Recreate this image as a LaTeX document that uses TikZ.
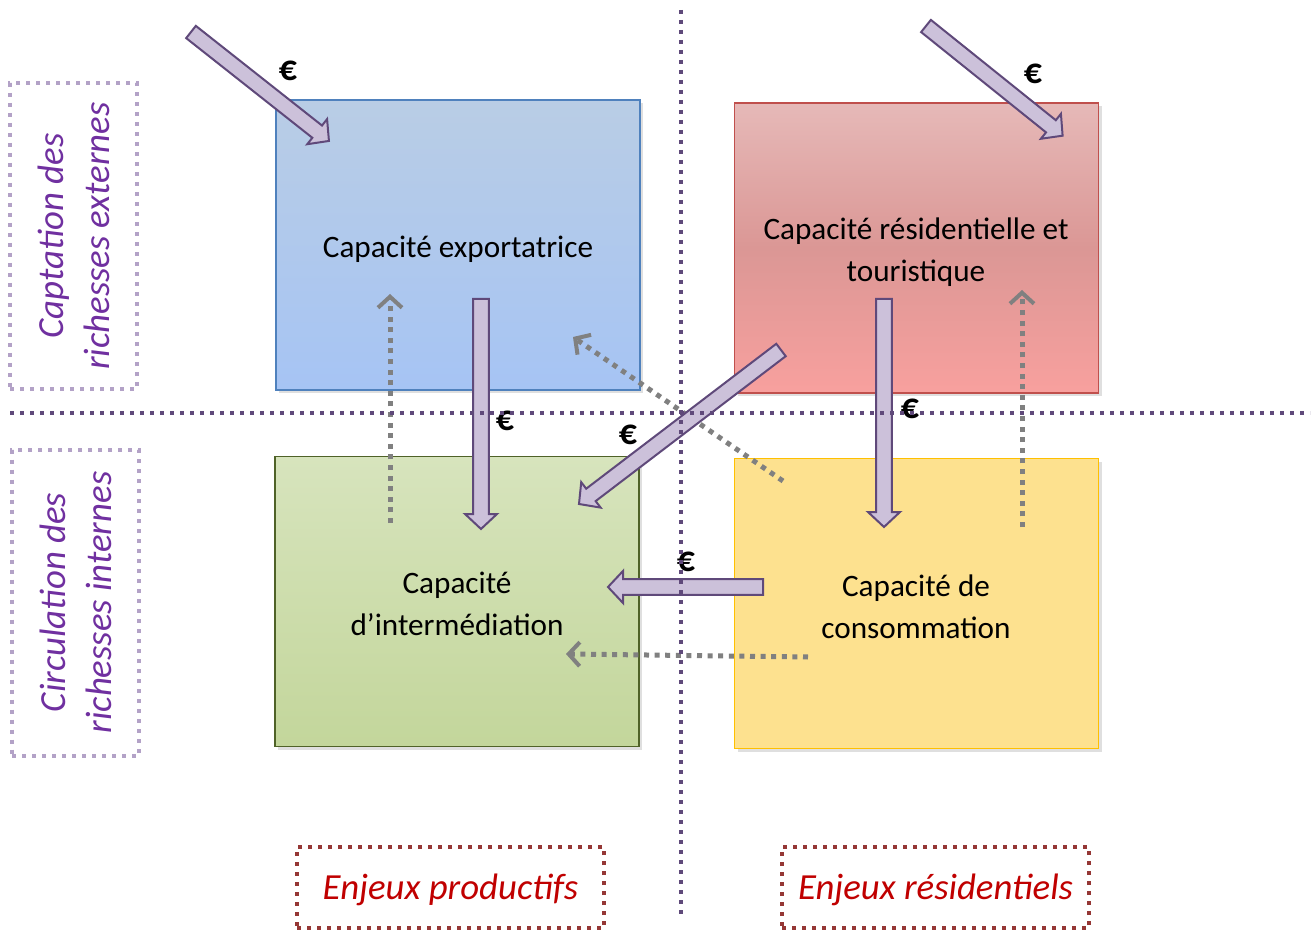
\documentclass[tikz,border=0pt]{standalone}
\usepackage{fontspec}
\setmainfont{Carlito}
\usetikzlibrary{arrows.meta,shadows}
\definecolor{divpurple}{HTML}{5F497A}
\definecolor{arrfill}{HTML}{CCC1DA}
\definecolor{lablav}{HTML}{B3A2C7}
\definecolor{labtext}{HTML}{7030A0}
\definecolor{enjbord}{HTML}{953735}
\definecolor{enjtext}{HTML}{C00000}
\definecolor{grayarr}{HTML}{808080}
\definecolor{bluetop}{HTML}{B9CDE5}
\definecolor{bluebot}{HTML}{A6C4F4}
\definecolor{bluebord}{HTML}{4F81BD}
\definecolor{redtop}{HTML}{E6B9B8}
\definecolor{redmid}{HTML}{DB9795}
\definecolor{redbot}{HTML}{F8A09E}
\definecolor{redbord}{HTML}{C0504D}
\definecolor{greentop}{HTML}{D7E4BD}
\definecolor{greenbot}{HTML}{C3D69B}
\definecolor{greenbord}{HTML}{4F6228}
\definecolor{yelfill}{HTML}{FDE18F}
\definecolor{yelbord}{HTML}{FFC000}
\newcommand\blockarrow[2]{%
  \path (#1); \pgfgetlastxy\bax\bay
  \path (#2); \pgfgetlastxy\bbx\bby
  \pgfmathsetmacro\bang{atan2(\bby-\bay,\bbx-\bax)}%
  \pgfmathsetmacro\blen{veclen(\bbx-\bax,\bby-\bay)}%
  \pgfmathsetmacro\bneck{\blen-7.5}%
  \draw[blockarr, shift={(#1)}, rotate=\bang] (0pt,-3.9pt) -- (\bneck pt,-3.9pt) -- (\bneck pt,-8pt) -- (\blen pt,0pt) -- (\bneck pt,8pt) -- (\bneck pt,3.9pt) -- (0pt,3.9pt) -- cycle;}
\begin{document}
\begin{tikzpicture}[x=0.5pt,y=-0.5pt,
  capbox/.style={minimum width=182pt, minimum height=145pt, inner sep=0pt, line width=0.6pt,
    drop shadow={opacity=0.25, shadow xshift=1.5pt, shadow yshift=-1.5pt}},
  captext/.style={align=center, font=\fontsize{15.6}{21}\selectfont, inner sep=0pt},
  blockarr/.style={draw=divpurple, fill=arrfill, line width=1pt, line join=miter},
  divider/.style={draw=divpurple, line width=1.7pt, dash pattern=on 2pt off 3pt},
  grayflow/.style={draw=grayarr, line width=2.5pt, dash pattern=on 2.5pt off 2.8pt,
    -{Straight Barb[length=5.5pt,width=12pt,line width=2pt]}},
  sidelab/.style={draw=lablav, line width=2pt, dash pattern=on 2pt off 3pt,
    minimum width=63.5pt, minimum height=153pt, inner sep=0pt},
  sidetext/.style={text=labtext, font=\fontsize{18.4}{23}\selectfont\itshape, align=center, rotate=90, inner sep=0pt},
  enjbox/.style={draw=enjbord, line width=2pt, dash pattern=on 2pt off 3pt,
    minimum width=153.5pt, minimum height=40.5pt, inner sep=0pt},
  enjtext/.style={text=enjtext, font=\fontsize{18.4}{20}\selectfont\itshape, inner sep=0pt},
  euro/.style={font=\fontsize{18}{18}\selectfont\bfseries, inner sep=0pt}
]
\useasboundingbox (0,0) rectangle (1314,931);
\fill[white] (0,0) rectangle (1314,931);

% boxes
\node[capbox, draw=bluebord, top color=bluetop, bottom color=bluebot] (exp) at (458,245) {};
\node[capbox, draw=redbord, top color=redtop, bottom color=redbot, middle color=redmid] (res) at (916.5,248) {};
\node[capbox, draw=greenbord, top color=greentop, bottom color=greenbot] (int) at (457,601.5) {};
\node[capbox, draw=yelbord, fill=yelfill] (con) at (916.5,603.5) {};
\node[captext] (expt) at (458,249) {Capacité exportatrice};
\node[captext] (rest) at (916,252.5) {Capacité résidentielle et\\touristique};
\node[captext] (intt) at (457,604) {Capacité\\d’intermédiation};
\node[captext] (cont) at (916,607) {Capacité de\\consommation};

% side labels
\node[sidelab] (capt) at (73.5,236) {};
\node[sidetext] at (74,236) {Captation des\\richesses externes};
\node[sidelab] (circ) at (75.5,602.5) {};
\node[sidetext] at (76,602.5) {Circulation des\\richesses internes};
\node[enjbox] (prod) at (450.5,887.5) {};
\node[enjtext] at (450.5,890) {Enjeux productifs};
\node[enjbox] (resid) at (935.5,887.5) {};
\node[enjtext] at (935.5,890) {Enjeux résidentiels};

% gray dotted flows
\coordinate (g1s) at (390,523); \coordinate (g1e) at (390,294);
\coordinate (g2s) at (1022,527); \coordinate (g2e) at (1022,290);
\coordinate (g3s) at (783,481); \coordinate (g3e) at (573,337);
\coordinate (g4s) at (808,657); \coordinate (g4e) at (566,654);
\draw[grayflow] (g1s) -- (g1e);
\draw[grayflow] (g2s) -- (g2e);
\draw[grayflow] (g3s) -- (g3e);
\draw[grayflow] (g4s) -- (g4e);

% block arrows
\coordinate (a1s) at (191,32); \coordinate (a1e) at (329,141);
\coordinate (a2s) at (926,26); \coordinate (a2e) at (1063,136);
\coordinate (a3s) at (481,299); \coordinate (a3e) at (481,529);
\coordinate (a4s) at (884,299); \coordinate (a4e) at (884,527);
\coordinate (a5s) at (781,350); \coordinate (a5e) at (579,504);
\coordinate (a6s) at (763,587); \coordinate (a6e) at (608,587);
\blockarrow{a1s}{a1e}
\blockarrow{a2s}{a2e}
\blockarrow{a3s}{a3e}
\blockarrow{a4s}{a4e}
\blockarrow{a5s}{a5e}
\blockarrow{a6s}{a6e}

% euro labels
\node[euro] (e1) at (288,71) {€};
\node[euro] (e2) at (1033,74) {€};
\node[euro] (e3) at (505,421) {€};
\node[euro] (e4) at (910,409) {€};
\node[euro] (e5) at (628,435) {€};
\node[euro] (e6) at (686,562) {€};

% dividers
\coordinate (vt) at (681,10); \coordinate (vb) at (681,917);
\coordinate (hl) at (10,413); \coordinate (hr) at (1310,413);
\draw[divider] (vt) -- (vb);
\draw[divider] (hl) -- (hr);
\end{tikzpicture}
\end{document}
